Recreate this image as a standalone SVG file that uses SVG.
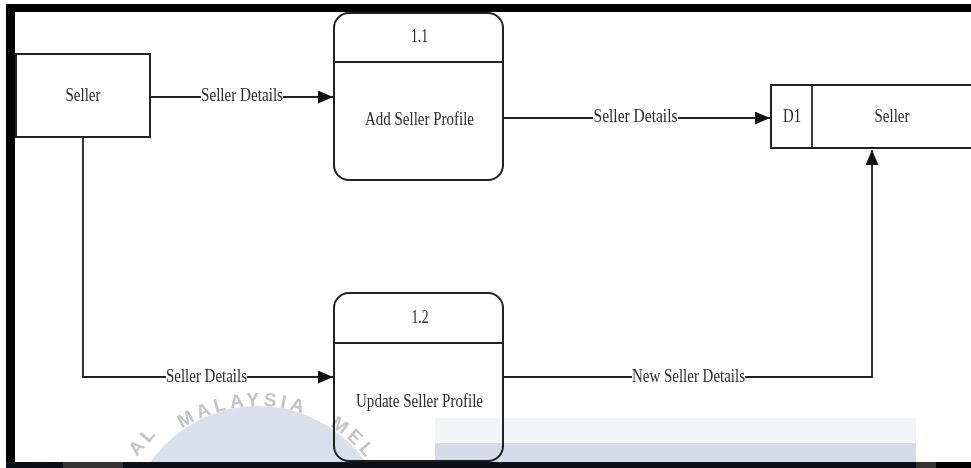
<svg xmlns="http://www.w3.org/2000/svg" width="971" height="468" viewBox="0 0 971 468">
<style>
.box{fill:#fff;stroke:#222;stroke-width:2}
.ln{fill:none;stroke:#222;stroke-width:1.8}
.t{font-family:"Liberation Serif","Times New Roman",serif;font-size:18px;fill:#2a2a2a;text-anchor:middle}
.bg{fill:#fff}
.wm{font-family:"Liberation Sans",Arial,sans-serif;font-size:19px;font-weight:bold;fill:#c4c4c4;letter-spacing:4px}
</style>
<defs>
<marker id="ah" markerUnits="userSpaceOnUse" markerWidth="16" markerHeight="14" refX="15" refY="6.5" orient="auto">
<path d="M0,0 L15,6.5 L0,13 z" fill="#111"/>
</marker>
<path id="wmArc" d="M120,544 A138,138 0 0 1 396,544"/>
</defs>
<rect width="971" height="468" fill="#fff"/>
<g id="connectors">
<path class="ln" d="M150,97 H333" marker-end="url(#ah)"/>
<rect class="bg" x="201" y="86" width="82" height="20"/>
<text class="t" x="242" y="101" textLength="82" lengthAdjust="spacingAndGlyphs">Seller Details</text>
<path class="ln" d="M503,118 H770" marker-end="url(#ah)"/>
<rect class="bg" x="593" y="107" width="85" height="20"/>
<text class="t" x="635.5" y="122" textLength="84" lengthAdjust="spacingAndGlyphs">Seller Details</text>
<path class="ln" d="M83,137 V377 H333" marker-end="url(#ah)"/>
<rect class="bg" x="166" y="366" width="81" height="20"/>
<text class="t" x="206.5" y="382" textLength="81" lengthAdjust="spacingAndGlyphs">Seller Details</text>
<path class="ln" d="M503,377 H872 V150" marker-end="url(#ah)"/>
<rect class="bg" x="632" y="366" width="113" height="20"/>
<text class="t" x="688.5" y="382" textLength="113" lengthAdjust="spacingAndGlyphs">New Seller Details</text>
</g>
<g id="seller-entity">
<rect class="box" x="16" y="54" width="134" height="83"/>
<text class="t" x="83" y="101" textLength="35" lengthAdjust="spacingAndGlyphs">Seller</text>
</g>
<g id="process-1-1">
<rect class="box" x="334" y="13" width="169" height="167" rx="15"/>
<line class="ln" x1="334" y1="62" x2="503" y2="62"/>
<text class="t" x="419.5" y="42" textLength="17" lengthAdjust="spacingAndGlyphs">1.1</text>
<text class="t" x="419.5" y="125" textLength="109" lengthAdjust="spacingAndGlyphs">Add Seller Profile</text>
</g>
<g id="process-1-2">
<rect class="box" x="334" y="293" width="169" height="168" rx="15"/>
<line class="ln" x1="334" y1="343" x2="503" y2="343"/>
<text class="t" x="420" y="323" textLength="17" lengthAdjust="spacingAndGlyphs">1.2</text>
<text class="t" x="419.5" y="407" textLength="127" lengthAdjust="spacingAndGlyphs">Update Seller Profile</text>
</g>
<g id="datastore-d1">
<rect class="box" x="771" y="85" width="201" height="63"/>
<line class="ln" x1="812" y1="85" x2="812" y2="148"/>
<text class="t" x="792" y="122" textLength="18" lengthAdjust="spacingAndGlyphs">D1</text>
<text class="t" x="892" y="122" textLength="35" lengthAdjust="spacingAndGlyphs">Seller</text>
</g>
<g id="overlay" style="mix-blend-mode:multiply">
<circle cx="258" cy="537" r="131" fill="#dadfec"/>
<rect x="435" y="418" width="481" height="26" fill="#f3f4f6"/>
<rect x="435" y="443" width="481" height="20" fill="#d7dbe9"/>
<text class="wm" x="137" y="457" transform="rotate(-50 137 457)">AL</text>
<text class="wm"><textPath href="#wmArc" startOffset="136">MALAYSIA</textPath></text>
<text class="wm"><textPath href="#wmArc" startOffset="292">MEL</textPath></text>
</g>
<g id="frame">
<rect x="6" y="4" width="965" height="8" fill="#000"/>
<rect x="6" y="4" width="9" height="464" fill="#000"/>
<rect x="6" y="462" width="965" height="6" fill="#0c0f1a"/>
<rect x="63" y="462" width="60" height="6" fill="#333"/>
<rect x="916" y="462" width="20" height="6" fill="#333"/>
<rect x="936" y="462" width="35" height="6" fill="#000"/>
</g>
</svg>
